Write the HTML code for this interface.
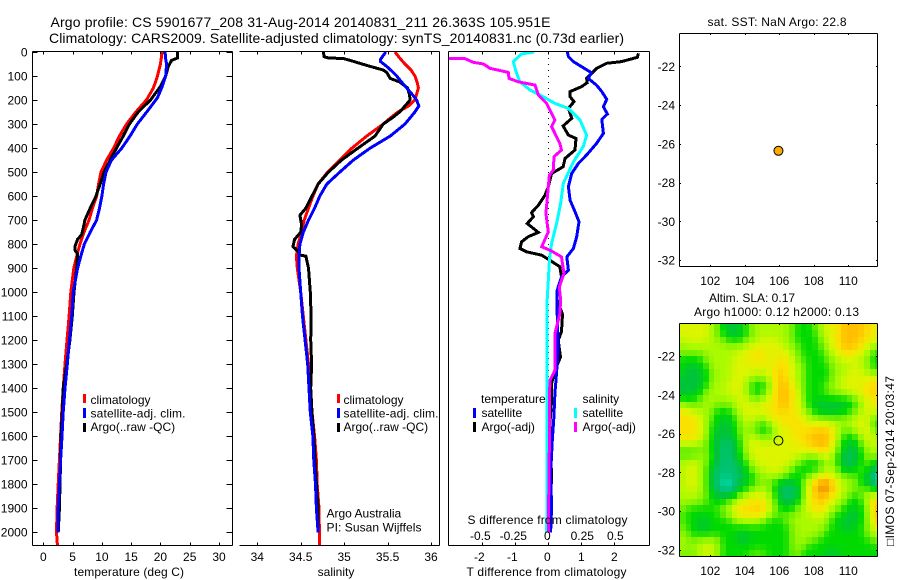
<!DOCTYPE html>
<html>
<head>
<meta charset="utf-8">
<title>Argo profile</title>
<style>
html,body{margin:0;padding:0;background:#fff;}
svg{display:block;}
text{font-family:"Liberation Sans",sans-serif;font-size:12px;fill:#000;}
.ttl{font-size:14px;}
.m{font-size:12.5px;}
</style>
</head>
<body>
<svg id="fig" width="900" height="580" viewBox="0 0 900 580" xmlns="http://www.w3.org/2000/svg">
<defs>
<clipPath id="clip-diff"><rect x="449" y="52" width="200" height="493"></rect></clipPath>
<clipPath id="clip-temp"><rect x="33" y="52" width="199" height="493"></rect></clipPath>
<clipPath id="clip-sal"><rect x="239" y="52" width="200" height="493"></rect></clipPath>
</defs>
<rect x="0" y="0" width="900" height="580" fill="#fff"></rect>
<text class="ttl" x="50.5" y="27" textLength="500" lengthAdjust="spacing">Argo profile: CS 5901677_208 31-Aug-2014 20140831_211 26.363S 105.951E</text>
<text class="ttl" x="49" y="43" textLength="575" lengthAdjust="spacing">Climatology: CARS2009. Satellite-adjusted climatology: synTS_20140831.nc (0.73d earlier)</text>

<g id="heat" shape-rendering="crispEdges"></g>
<g id="lines-temp" clip-path="url(#clip-temp)" fill="none" stroke-width="3" shape-rendering="crispEdges"></g>
<g id="lines-sal" clip-path="url(#clip-sal)" fill="none" stroke-width="3" shape-rendering="crispEdges"></g>
<line x1="548.5" y1="52" x2="548.5" y2="545" stroke="#000" stroke-width="1" stroke-dasharray="1 5" shape-rendering="crispEdges"></line>
<g id="lines-diff" clip-path="url(#clip-diff)" fill="none" stroke-width="3" shape-rendering="crispEdges"></g>
<g id="axes" stroke="#000" stroke-width="1" fill="none" shape-rendering="crispEdges"></g>
<g id="labels"></g>
<g id="markers"></g>

<text x="129" y="576" text-anchor="middle" textLength="110" lengthAdjust="spacing">temperature (deg C)</text>
<text x="336" y="576" text-anchor="middle">salinity</text>
<text x="546.5" y="576" text-anchor="middle" textLength="160" lengthAdjust="spacing">T difference from climatology</text>
<text x="547.5" y="524" text-anchor="middle" textLength="160" lengthAdjust="spacing">S difference from climatology</text>

<g>
<rect x="83" y="394" width="3" height="9" fill="#f00"></rect>
<rect x="83" y="408" width="3" height="10" fill="#00f"></rect>
<rect x="83" y="423" width="3" height="9" fill="#000"></rect>
<text x="90.5" y="404">climatology</text>
<text x="90.5" y="417.5" textLength="95" lengthAdjust="spacing">satellite-adj. clim.</text>
<text x="90.5" y="431">Argo(..raw -QC)</text>
</g>
<g>
<rect x="337" y="394" width="3" height="9" fill="#f00"></rect>
<rect x="337" y="408" width="3" height="10" fill="#00f"></rect>
<rect x="337" y="423" width="3" height="9" fill="#000"></rect>
<text x="343.5" y="404">climatology</text>
<text x="343.5" y="417.5" textLength="95" lengthAdjust="spacing">satellite-adj. clim.</text>
<text x="343.5" y="431">Argo(..raw -QC)</text>
</g>
<text x="326.5" y="517.5">Argo Australia</text>
<text x="326.5" y="531.5" textLength="95" lengthAdjust="spacing">PI: Susan Wijffels</text>

<g>
<text x="481" y="403">temperature</text>
<rect x="473" y="408" width="3" height="10" fill="#00f"></rect>
<text x="481.5" y="417">satellite</text>
<rect x="473" y="422" width="3" height="10" fill="#000"></rect>
<text x="481.5" y="431">Argo(-adj)</text>
<text x="582.5" y="403">salinity</text>
<rect x="574" y="408" width="3" height="10" fill="#0ff"></rect>
<text x="582.5" y="417">satellite</text>
<rect x="574" y="422" width="3" height="10" fill="#f0f"></rect>
<text x="582.5" y="431">Argo(-adj)</text>
</g>

<text x="707.5" y="26" textLength="139" lengthAdjust="spacing">sat. SST: NaN Argo: 22.8</text>
<text x="709" y="302">Altim. SLA: 0.17</text>
<text x="694" y="316" textLength="165" lengthAdjust="spacing">Argo h1000: 0.12 h2000: 0.13</text>
<text transform="translate(894 546) rotate(-90)" textLength="170" lengthAdjust="spacing">□IMOS 07-Sep-2014 20:03:47</text>
</svg>

<script>
// ---------- chart data ----------
const depthTicks = [0,100,200,300,400,500,600,700,800,900,1000,1100,1200,1300,1400,1500,1600,1700,1800,1900,2000];
const tempTicks = [0,5,10,15,20,25,30];
const salTicks = [34,34.5,35,35.5,36];
const salTickLabels = ["34","34.5","35","35.5","36"];
const tDiffTicks = [-2,-1,0,1,2];
const tDiffTickLabels = ["-2","-1","0","1","2"];
const sDiffTicks = [-0.5,-0.25,0,0.25,0.5];
const sDiffTickLabels = ["-0.5","-0.25","0","0.25","0.5"];
const lonTicks = [102,104,106,108,110];
const latTicks = [-22,-24,-26,-28,-30,-32];

const climTempDepth = [0,50,100,150,200,250,300,350,400,450,500,550,600,650,700,750,800,850,900,1000,1100,1200,1300,1400,1500,1600,1700,1800,1900,2000,2053];
const climTempValue = [20.3,20,19.5,18.8,17.6,15.8,14.2,13,12,10.8,9.85,9.45,9.1,8.4,7.8,6.95,6.25,5.7,5.2,4.7,4.4,4.05,3.7,3.4,3.15,2.95,2.75,2.55,2.35,2.25,2.4];
const satTempDepth = [0,30,50,100,150,190,250,300,350,400,450,500,550,600,650,700,750,800,850,900,1000,1100,1200,1300,1400,1500,1600,1700,1800,1900,2000];
const satTempValue = [20.8,20.9,21.05,20.9,20.2,19.5,17.65,16.05,14.8,13.4,11.65,10.7,10.3,10,9.6,9.1,8,7,6.4,5.85,5.1,4.85,4.45,4.1,3.7,3.4,3.2,2.95,2.75,2.55,2.55];
const argoTempDepth = [0,25,35,60,100,140,150,200,250,300,350,400,450,500,550,600,650,700,720,760,780,810,825,840,900,1000,1100,1200,1300,1400,1500,1600,1700,1800,1900,2000];
const argoTempValue = [22.95,22.9,21.9,21.35,20.9,20.1,19.8,18.3,16.2,14.7,13.65,12.5,11.4,10.4,9.7,9,8,7.1,6.95,6.55,5.85,5.4,5.4,5.85,5.7,5.25,4.95,4.55,4,3.4,3.25,3,2.95,2.85,2.75,2.55];

const climSalDepth = [0,25,50,75,100,125,150,175,200,225,250,275,300,350,400,450,500,550,600,650,700,750,800,850,900,1000,1100,1200,1300,1400,1500,1600,1700,1800,1900,2000,2053];
const climSalValue = [35.585,35.64,35.7,35.77,35.815,35.84,35.855,35.835,35.815,35.74,35.62,35.53,35.45,35.26,35.09,34.95,34.81,34.7,34.64,34.59,34.54,34.51,34.47,34.45,34.46,34.5,34.53,34.56,34.59,34.61,34.63,34.66,34.68,34.69,34.71,34.715,34.715];
const satSalDepth = [0,15,30,40,60,80,100,125,150,175,200,225,250,300,350,400,450,500,550,600,650,700,750,800,850,900,1000,1100,1200,1300,1400,1500,1600,1700,1800,1900,2000];
const satSalValue = [35.48,35.45,35.42,35.42,35.49,35.55,35.605,35.66,35.72,35.78,35.835,35.86,35.815,35.7,35.53,35.3,35.105,34.95,34.8,34.72,34.66,34.59,34.53,34.49,34.48,34.48,34.5,34.52,34.55,34.58,34.595,34.61,34.64,34.65,34.67,34.68,34.7];
const argoSalDepth = [0,20,25,27,35,45,60,75,85,110,125,150,175,200,225,250,275,300,350,400,450,500,550,600,650,680,720,750,780,810,830,845,850,900,1000,1100,1200,1300,1400,1500,1600,1700,1800,1900,2000];
const argoSalValue = [34.76,34.77,34.82,34.99,35.07,35.16,35.3,35.45,35.49,35.53,35.64,35.73,35.75,35.76,35.7,35.64,35.55,35.45,35.355,35.16,34.97,34.82,34.7,34.63,34.56,34.49,34.51,34.5,34.43,34.41,34.47,34.49,34.56,34.59,34.61,34.62,34.615,34.625,34.615,34.63,34.65,34.665,34.68,34.7,34.7];

const satDTDepth = [0,19,40,61,86,110,138,165,197,228,258,281,339,381,429,464,506,561,617,665,707,769,818,853,908,936,992,1033,1089,1228,1339,1422,1519,1617,1755,1894,2000];
const satDTValue = [0.58,0.61,0.76,1.01,1.31,1.21,1.46,1.62,1.77,1.67,1.79,1.62,1.67,1.46,1.16,0.91,0.71,0.61,0.66,0.81,0.93,0.86,0.76,0.56,0.61,0.4,0.27,0.27,0.27,0.3,0.25,0.2,0.17,0.12,0.07,0.1,0.07];
const argoDTDepth = [6,22,40,47,68,89,110,128,144,165,186,207,235,276,308,346,360,408,443,478,506,561,596,638,669,686,714,751,769,790,818,832,846,867,894,936,992,1033,1092,1165,1200,1270,1325,1380,1450,1547,1644,1755,1963];
const argoDTValue = [2.73,2.7,2.22,1.77,1.47,1.31,1.16,1.18,1.01,0.66,0.66,0.78,0.61,0.71,0.45,0.61,0.84,0.81,0.51,0.45,0.1,0,-0.1,-0.3,-0.51,-0.45,-0.64,-0.3,-0.61,-0.81,-0.86,-0.66,-0.2,0.05,0.35,0.4,0.27,0.27,0.43,0.4,0.3,0.37,0.2,0.1,0.1,0.05,0.05,0.1,0.05];
const satDSDepth = [0,8,40,82,124,158,179,214,235,283,346,394,457,547,631,714,797,867,950,1033,1500,2000];
const satDSValue = [-0.106,-0.202,-0.265,-0.245,-0.215,-0.139,-0.063,0.05,0.152,0.24,0.29,0.265,0.19,0.114,0.093,0.063,0.025,0.008,0,-0.008,-0.008,-0.012];
const argoDSDepth = [28,28,43,50,68,85,110,124,138,179,214,283,311,381,408,436,492,513,561,672,749,811,825,853,922,978,1033,1089,1172,1325,1367,1436,1617,2000];
const argoDSValue = [-0.758,-0.63,-0.568,-0.492,-0.442,-0.303,-0.298,-0.227,-0.101,-0.076,-0.013,0.05,0.025,0.088,0.1,0.043,0.038,0.008,0,-0.018,0,-0.05,0.013,0.1,0.119,0.083,0.093,0.088,0.05,0.05,0.013,0.008,0.008,0];

const floatLat = -26.363;
const floatLon = 105.951;
const heatStartLon = 100.24;
const heatStartLat = -20.35;
const heatStepDeg = 1/3;
const slaLevels = [
[6,6,6,6,6,5,4,3,2,2,3,3,5,5,5,5,5,5,5,4,3,3,3,4,5,6,6,7,8,8,8,8,7,7,6],
[6,6,6,6,6,5,4,3,2,2,2,3,4,5,5,5,5,5,5,4,3,3,3,3,5,6,6,7,8,8,8,8,7,7,6],
[5,6,6,6,6,5,5,4,3,3,3,4,5,5,6,6,6,5,5,4,3,3,3,3,4,5,6,7,8,8,8,7,7,6,6],
[5,5,5,5,5,5,5,5,5,5,5,5,6,6,6,6,6,6,5,5,4,3,3,3,4,5,6,7,8,8,8,7,6,5,5],
[4,4,4,4,5,5,5,5,5,5,6,6,7,7,7,6,6,7,6,5,4,3,3,3,3,4,5,6,7,7,6,6,5,3,3],
[3,3,3,3,4,5,5,5,5,6,6,6,7,7,7,6,6,7,7,6,4,4,3,3,3,4,5,5,6,6,6,5,5,3,3],
[3,2,2,3,3,5,5,5,5,6,6,6,6,6,6,6,7,7,7,6,5,4,3,3,3,3,4,5,5,5,6,5,5,3,3],
[3,2,2,2,3,4,5,5,5,6,6,6,6,6,6,6,7,8,7,6,5,4,3,3,3,3,4,5,5,6,6,6,5,4,4],
[2,2,2,2,3,4,5,5,5,6,6,6,4,4,4,5,7,8,7,6,5,4,3,3,3,3,4,5,6,6,6,6,6,7,7],
[2,2,2,2,3,5,5,5,6,6,6,5,3,3,3,4,7,8,8,7,5,4,3,3,3,4,5,5,6,6,6,6,7,7,7],
[2,2,2,3,4,5,5,5,6,6,6,5,3,3,3,5,7,8,8,7,6,4,3,3,3,4,4,5,5,6,6,7,7,8,7],
[3,3,3,4,5,5,5,5,5,5,6,6,4,4,5,6,7,8,8,7,6,4,3,3,3,3,3,3,3,3,4,5,6,7,7],
[5,4,4,4,5,5,4,4,4,5,6,6,6,6,6,6,7,8,8,7,6,5,3,2,2,2,2,2,2,3,3,5,6,6,6],
[7,6,6,5,5,4,3,3,3,4,5,6,6,6,6,7,7,7,7,7,6,5,4,3,2,2,2,2,3,3,4,5,6,6,6],
[7,7,7,6,5,4,3,2,3,3,5,6,6,5,5,6,7,7,7,7,7,6,5,5,4,4,4,4,4,5,5,6,6,4,4],
[7,7,7,6,5,3,3,2,2,3,4,5,5,4,3,4,6,6,7,7,7,7,6,6,6,6,6,5,5,5,6,6,6,4,3],
[7,7,7,6,5,3,2,2,2,3,4,5,4,3,3,3,5,6,6,7,7,7,7,8,8,8,7,5,4,4,5,6,6,5,3],
[7,7,7,6,5,3,2,2,2,2,4,5,6,5,4,4,5,6,6,6,7,7,8,8,8,8,7,5,3,3,3,5,6,6,5],
[6,6,6,5,4,3,2,1,1,2,3,5,6,6,6,6,6,6,6,6,7,7,7,8,8,8,7,4,3,2,2,4,5,6,5],
[3,3,3,4,4,3,2,1,1,2,3,5,6,6,6,6,6,6,6,6,6,6,7,7,8,7,6,4,2,2,2,3,5,5,5],
[4,4,4,5,5,3,2,1,1,2,3,4,6,6,6,6,6,6,6,6,6,5,4,4,5,6,5,3,2,1,2,3,4,5,4],
[5,6,6,5,4,3,2,1,1,1,2,3,5,6,6,6,6,6,6,5,4,3,3,3,3,5,5,3,2,1,2,3,4,3,2],
[5,6,6,5,4,2,1,1,1,1,2,3,4,5,5,6,6,6,5,4,3,3,3,3,4,5,5,4,2,2,3,4,3,2,1],
[5,6,6,5,4,2,1,1,1,1,1,2,3,4,5,5,5,5,4,3,3,3,4,5,6,7,6,5,4,4,4,3,2,1,0],
[5,6,6,5,4,2,1,0,0,1,2,3,3,4,4,4,3,2,2,2,3,4,6,8,9,9,8,6,5,5,4,3,2,1,0],
[5,6,6,5,4,2,1,1,0,1,2,3,4,5,5,5,3,2,1,1,2,4,6,8,9,9,8,6,5,5,4,4,4,3,2],
[5,5,5,5,4,3,2,2,2,3,4,5,6,6,6,5,3,2,1,1,2,4,6,8,8,8,7,6,5,4,3,4,5,6,6],
[5,5,5,4,4,3,3,3,4,5,6,7,7,7,7,6,4,2,2,2,3,5,6,7,8,7,6,5,4,3,3,3,5,7,8],
[4,3,3,3,3,3,4,4,5,6,7,7,7,8,7,6,4,3,3,3,4,5,6,7,7,6,5,4,3,3,2,3,4,7,8],
[4,3,3,3,3,3,3,4,5,6,7,7,7,7,7,5,4,4,4,4,5,5,5,6,6,5,4,3,3,2,2,3,4,7,8],
[4,3,3,2,2,3,3,3,3,4,5,5,5,5,4,3,3,3,4,5,5,5,5,5,5,5,3,3,2,2,2,3,4,6,8],
[4,3,3,2,2,3,3,3,3,3,3,3,3,3,3,3,3,3,3,4,5,5,5,5,5,4,3,3,2,2,3,3,4,6,7],
[5,4,3,3,3,3,3,3,3,3,2,2,3,3,3,3,3,3,3,4,5,5,5,5,4,3,3,3,3,3,3,3,4,5,5],
[5,4,4,5,5,5,5,3,3,3,2,2,3,3,3,3,3,3,3,4,5,5,4,4,3,3,3,3,3,3,3,3,3,4,4],
[5,5,5,5,6,6,5,3,3,3,3,3,3,3,3,3,3,3,3,4,5,4,3,3,3,3,3,3,3,3,3,3,3,3,3],
[4,4,4,5,6,5,5,3,3,3,3,3,4,4,4,3,3,3,3,4,4,3,3,3,3,2,2,2,3,3,3,3,3,3,3]
];

// ---------- scales ----------
const NS = "http://www.w3.org/2000/svg";
function yDepth(d){ return 52 + d * 0.2402; }
function xTemp(t){ return 43.3 + t * 5.857; }
function xSal(s){ return 257.3 + (s - 34) * 86.85; }
function xDT(t){ return 548.3 + t * 33; }
function xDS(s){ return 548.3 + s * 132; }
function xLon(lon){ return 710.3 + (lon - 102) * 17.25; }
function yLatTop(lat){ return 66.3 + (-22 - lat) * 19.37; }
function yLatBot(lat){ return 356 + (-22 - lat) * 19.4; }
function heatColor(level){
  const stops = [[0,222,190],[0,195,115],[0,195,60],[0,218,0],[110,240,0],[170,250,0],[222,245,0],[250,225,0],[255,190,0],[235,140,0]];
  const v = Math.max(0, Math.min(9, level));
  const i = Math.min(8, Math.floor(v));
  const f = v - i;
  const c = [0,1,2].map(function(k){ return Math.round(stops[i][k] + (stops[i + 1][k] - stops[i][k]) * f); });
  return "rgb(" + c.join(",") + ")";
}
function softLevel(r, c){
  let sum = 0, weight = 0;
  for (let dr = -1; dr <= 1; dr++) {
    for (let dc = -1; dc <= 1; dc++) {
      const row = slaLevels[r + dr];
      if (!row || row[c + dc] === undefined) continue;
      const w = (dr === 0 ? 2 : 1) * (dc === 0 ? 2 : 1);
      sum += row[c + dc] * w;
      weight += w;
    }
  }
  return sum / weight;
}
function make(tag, parent, attrs){
  const el = document.createElementNS(NS, tag);
  for (const k in attrs) el.setAttribute(k, attrs[k]);
  parent.appendChild(el);
  return el;
}
const axesG = document.getElementById("axes");
const labelsG = document.getElementById("labels");
const markersG = document.getElementById("markers");

function seg(x1, y1, x2, y2){
  const el = make("line", axesG, {x1: x1, y1: y1, x2: x2, y2: y2});
  
  
  return el;
}
function label(x, y, str, anchor){
  const el = make("text", labelsG, {x: x, y: y, "text-anchor": anchor});
  el.textContent = str;
  
  
  return el;
}
function profile(groupId, depths, values, xFn, color, name){
  const pts = depths.map(function(d, i){ return xFn(values[i]).toFixed(1) + "," + yDepth(d).toFixed(1); }).join(" ");
  const el = make("polyline", document.getElementById(groupId), {points: pts, stroke: color});
  
  
}

// ---------- heatmap ----------
const heatG = document.getElementById("heat");
slaLevels.forEach(function(row, r){
  row.forEach(function(v, c){
    const lon0 = heatStartLon + c * heatStepDeg;
    const lon1 = heatStartLon + (c + 1) * heatStepDeg;
    const lat0 = heatStartLat - r * heatStepDeg;
    const lat1 = heatStartLat - (r + 1) * heatStepDeg;
    const x0 = Math.round(xLon(lon0));
    const x1 = Math.min(877, Math.round(xLon(lon1)));
    const y0 = Math.max(324, Math.round(yLatBot(lat0)));
    const y1 = Math.min(556, Math.round(yLatBot(lat1)));
    if (x1 <= x0 || y1 <= y0) return;
    const cell = make("rect", heatG, {x: x0, y: y0, width: x1 - x0, height: y1 - y0, fill: heatColor(softLevel(r, c))});
    
    
  });
});

// ---------- series ----------
profile("lines-temp", climTempDepth, climTempValue, xTemp, "#f00", "temperature-climatology-line");
profile("lines-temp", argoTempDepth, argoTempValue, xTemp, "#000", "temperature-argo-line");
profile("lines-temp", satTempDepth, satTempValue, xTemp, "#00f", "temperature-satellite-line");
profile("lines-sal", climSalDepth, climSalValue, xSal, "#f00", "salinity-climatology-line");
profile("lines-sal", argoSalDepth, argoSalValue, xSal, "#000", "salinity-argo-line");
profile("lines-sal", satSalDepth, satSalValue, xSal, "#00f", "salinity-satellite-line");
profile("lines-diff", argoDTDepth, argoDTValue, xDT, "#000", "t-difference-argo-line");
profile("lines-diff", satDTDepth, satDTValue, xDT, "#00f", "t-difference-satellite-line");
profile("lines-diff", satDSDepth, satDSValue, xDS, "#0ff", "s-difference-satellite-line");
profile("lines-diff", argoDSDepth, argoDSValue, xDS, "#f0f", "s-difference-argo-line");

// ---------- axes ----------
const T = 51.5, B = 545.5;
// temperature panel
seg(32.5, T, 232.5, T); seg(32.5, B, 232.5, B); seg(32.5, T, 32.5, B); seg(232.5, T, 232.5, B);
depthTicks.forEach(function(d){
  const y = Math.round(yDepth(d)) + 0.5;
  seg(32.5, y, 37.5, y);
  seg(226.5, y, 232.5, y);
  label(27.5, y + 4, String(d), "end");
});
tempTicks.forEach(function(t){
  const x = Math.round(xTemp(t)) + 0.5;
  seg(x, T, x, T + 3);
  seg(x, B, x, B - 3);
  label(xTemp(t), 561, String(t), "middle");
});
// salinity panel
seg(239.5, T, 439.5, T); seg(239.5, B, 439.5, B); seg(439.5, T, 439.5, B);
salTicks.forEach(function(s, i){
  const x = Math.round(xSal(s)) + 0.5;
  seg(x, T, x, T + 3);
  seg(x, B, x, B - 3);
  label(xSal(s), 561, salTickLabels[i], "middle");
});
// difference panel
seg(448.5, T, 649.5, T); seg(448.5, B, 649.5, B); seg(448.5, T, 448.5, B); seg(649.5, T, 649.5, B);
tDiffTicks.forEach(function(t, i){
  const x = Math.round(xDT(t)) + 0.5;
  seg(x, T, x, T + 3);
  seg(x, B, x, B - 3);
  label(xDT(t) + (t < 0 ? -3 : 0) + (t === 0 ? -1 : 0), 561, tDiffTickLabels[i], "middle");
});
sDiffTicks.forEach(function(s, i){
  label(xDS(s) + (s < 0 ? -2 : 0) + (s === 0 ? -1 : 0) + (s > 0 ? 1 : 0), 540, sDiffTickLabels[i], "middle");
});
// map panels
function mapAxes(top, bottom, left, right, yFn, labelBase){
  seg(left, top, right, top); seg(left, bottom, right, bottom);
  seg(left, top, left, bottom); seg(right, top, right, bottom);
  lonTicks.forEach(function(lon){
    const x = Math.round(xLon(lon)) + 0.5;
    seg(x, top, x, top + 1.5);
    seg(x, bottom, x, bottom - 1.5);
    label(xLon(lon), labelBase, String(lon), "middle");
  });
  latTicks.forEach(function(lat){
    const y = Math.round(yFn(lat)) + 0.5;
    seg(left, y, left + 1.5, y);
    seg(right, y, right - 1.5, y);
    label(675, yFn(lat) + 4.5, String(lat), "end");
  });
}
mapAxes(33.5, 266.5, 679.5, 877.5, yLatTop, 285);
mapAxes(323.5, 556.5, 679.5, 877.5, yLatBot, 575);

// ---------- float position markers ----------
const dotSst = make("circle", markersG, {cx: xLon(floatLon), cy: yLatTop(floatLat), r: 4.5, fill: "#ffaa00", stroke: "#000", "stroke-width": 1});


const dotSla = make("circle", markersG, {cx: xLon(floatLon), cy: yLatBot(floatLat), r: 4.5, fill: "none", stroke: "#000", "stroke-width": 1});


</script>
</body>
</html>
